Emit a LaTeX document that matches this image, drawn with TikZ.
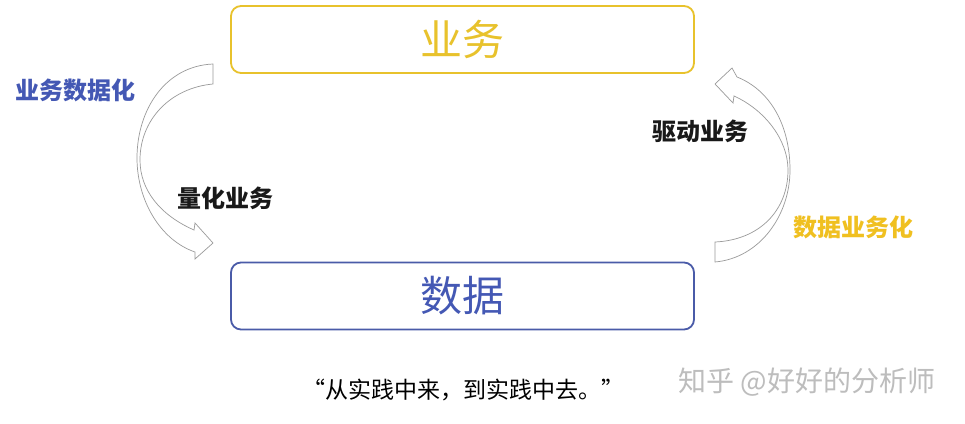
\documentclass[tikz,border=0pt]{standalone}
\usepackage{fontspec}
\newfontfamily\cjk{Noto Sans CJK SC}
\definecolor{gold}{HTML}{E8C22C}
\definecolor{goldtxt}{HTML}{F0C020}
\definecolor{bluebox}{HTML}{4A5BA8}
\definecolor{bluetxt}{HTML}{4458B4}
\definecolor{arrowgray}{HTML}{9A9A9A}
\definecolor{wmgray}{HTML}{BDBDBD}
\tikzset{
  bigbox/.style={draw, line width=1.8pt, rounded corners=10pt, minimum width=463pt, minimum height=67pt, inner sep=0pt, font=\cjk\fontsize{42}{42}\selectfont},
  lbl/.style={font=\cjk\bfseries\fontsize{24}{24}\selectfont, inner sep=0pt},
  blockarrow/.style={draw=arrowgray, line width=0.7pt, fill=white, line join=miter},
}
\begin{document}
\begin{tikzpicture}[x=1pt,y=-1pt]
\useasboundingbox[fill=white] (0,0) rectangle (965,423);
% boxes
\node[bigbox, draw=gold, text=gold] (biz) at (462.5,39.5) {业务};
\node[bigbox, draw=bluebox, text=bluetxt] (data) at (462.5,296) {数据};
% left curved arrow
\draw[blockarrow] (213,64) .. controls (165,66) and (137,110) .. (137,158)
  .. controls (137,200) and (160,240) .. (195,252)
  -- (195,259) -- (213,243) -- (195,223) -- (194,230)
  .. controls (160,215) and (140,190) .. (140,160)
  .. controls (140,120) and (170,88) .. (213,84) -- cycle;
% right curved arrow
\draw[blockarrow] (715,262) .. controls (760,258) and (790,215) .. (790,170)
  .. controls (790,125) and (770,90) .. (737,77)
  -- (732,68) -- (715,84) -- (733,103) -- (734,96)
  .. controls (765,110) and (788,140) .. (788,170)
  .. controls (788,210) and (760,240) .. (715,242) -- cycle;
% labels
\node[lbl, text=bluetxt] (l1) at (75,90) {业务数据化};
\node[lbl, text=black!90] (l2) at (225,198) {量化业务};
\node[lbl, text=black!90] (l3) at (700,131) {驱动业务};
\node[lbl, text=goldtxt] (l4) at (853,227) {数据业务化};
% quote
\node[font=\cjk\fontsize{23}{23}\selectfont, inner sep=0pt] (q) at (463,390) {“从实践中来，到实践中去。”};
% watermark
\node[font=\cjk\fontsize{28}{28}\selectfont, text=wmgray, inner sep=0pt] (wm) at (807,382) {知乎 @好好的分析师};
\end{tikzpicture}
\end{document}
